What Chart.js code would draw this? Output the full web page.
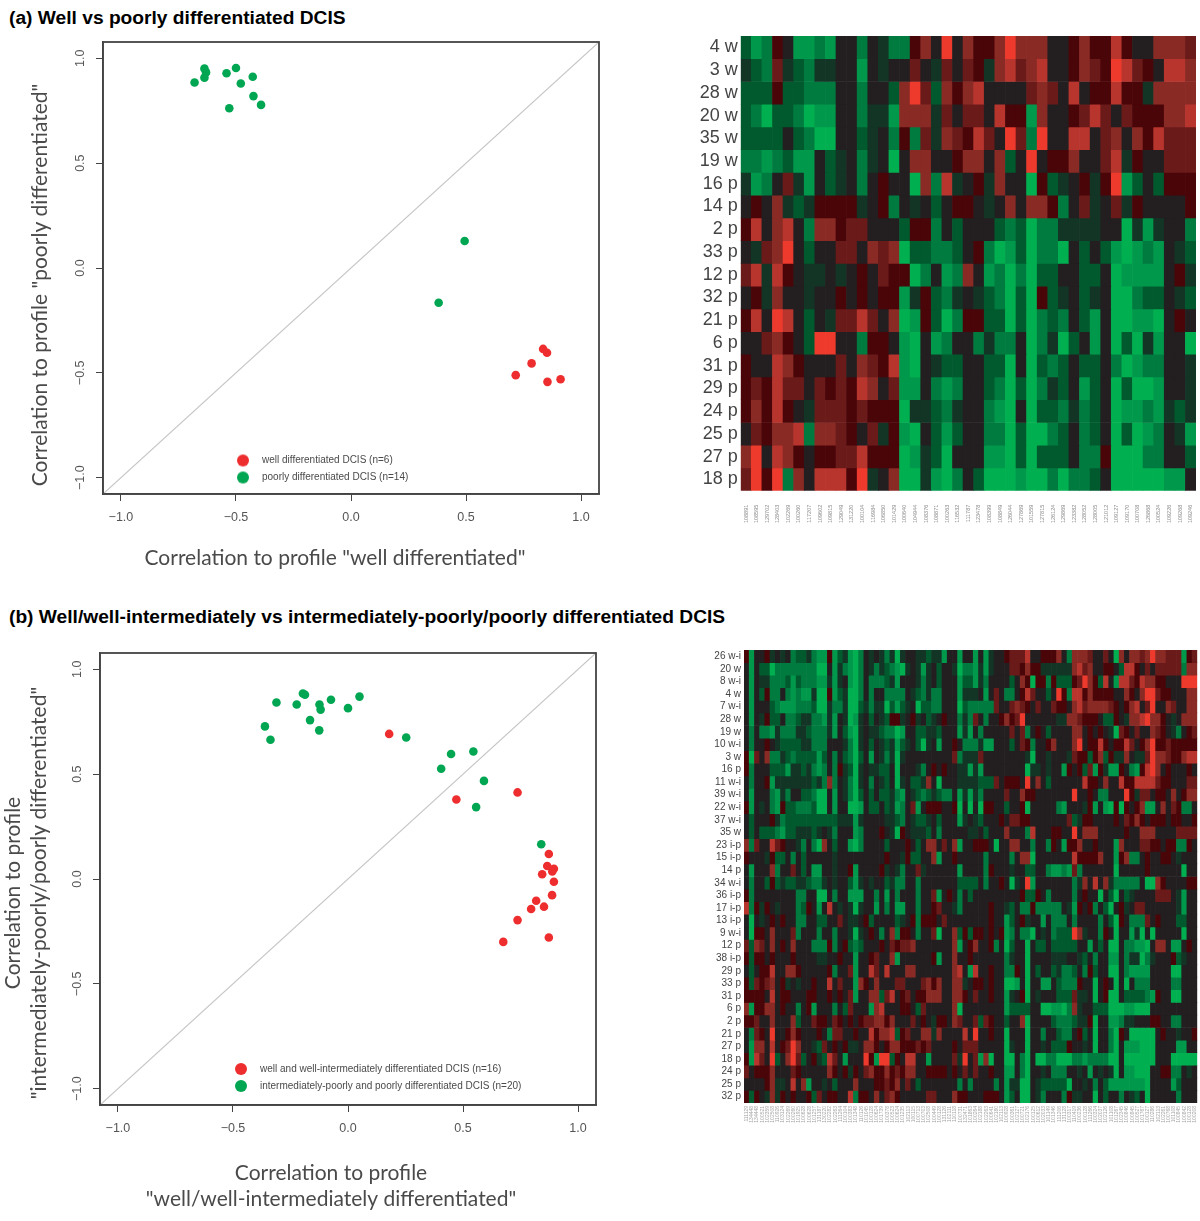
<!DOCTYPE html>
<html><head><meta charset="utf-8">
<script src="https://cdn.jsdelivr.net/npm/chart.js@4"></script>
<style>
html,body{margin:0;padding:0;background:#fff;}
#page{position:relative;width:1200px;height:1221px;overflow:hidden;}
canvas{position:absolute;}
h2{position:absolute;margin:0;font:bold 19.2px "Liberation Sans",Arial,sans-serif;color:#000;white-space:nowrap;}
</style></head><body>
<div id="page">
<h2 style="left:9px;top:7px">(a) Well vs poorly differentiated DCIS</h2>
<h2 style="left:9px;top:606px">(b) Well/well-intermediately vs intermediately-poorly/poorly differentiated DCIS</h2>
<div style="position:absolute;left:0;top:30px;width:640px;height:560px"><canvas id="scA"></canvas></div>
<div style="position:absolute;left:680px;top:30px;width:520px;height:510px"><canvas id="hmA"></canvas></div>
<div style="position:absolute;left:0;top:640px;width:640px;height:581px"><canvas id="scB"></canvas></div>
<div style="position:absolute;left:700px;top:640px;width:500px;height:510px"><canvas id="hmB"></canvas></div>
</div>
<script>
// ---------- scatter (a) ----------
const wellA=[[0.835,-0.386],[0.852,-0.404],[0.785,-0.455],[0.716,-0.511],[0.854,-0.543],[0.911,-0.531]];
const poorA=[[-0.637,0.951],[-0.63,0.933],[-0.637,0.908],[-0.68,0.885],[-0.541,0.929],[-0.5,0.954],[-0.479,0.88],[-0.427,0.912],[-0.424,0.82],[-0.391,0.778],[-0.529,0.762],[0.494,0.129],[0.381,-0.166]];
// ---------- scatter (b) ----------
const wellB=[[0.179,0.692],[0.471,0.379],[0.737,0.413],[0.873,0.119],[0.866,0.062],[0.895,0.049],[0.888,0.036],[0.844,0.023],[0.895,-0.013],[0.887,-0.077],[0.818,-0.104],[0.852,-0.132],[0.796,-0.143],[0.737,-0.196],[0.873,-0.279],[0.675,-0.3]];
const poorB=[[-0.361,0.728],[-0.337,0.664],[-0.311,0.842],[-0.223,0.832],[-0.196,0.885],[-0.187,0.879],[-0.165,0.758],[-0.124,0.832],[-0.119,0.808],[-0.125,0.709],[-0.074,0.855],[0,0.815],[0.05,0.87],[0.253,0.675],[0.405,0.526],[0.448,0.596],[0.545,0.608],[0.591,0.468],[0.557,0.343],[0.84,0.166]];
const axisTicks=[-1,-0.5,0,0.5,1];
const axisLimit=1.078;

// ---------- heatmap (a): expression level -5 (green) .. +5 (red) ----------
const rowLabelsA=["4 w","3 w","28 w","20 w","35 w","19 w","16 p","14 p","2 p","33 p","12 p","32 p","21 p","6 p","31 p","29 p","24 p","25 p","27 p","18 p"];
const colLabelsA=["108891","108595","129702","128403","102269","100260","117207","109602","109815","129049","131220","100104","116984","106850","101429","100640","104944","108376","108871","100263","116532","111787","123478","108399","108849","126044","127869","101559","127815","126124","129869","123382","128052","128005","121012","109127","109170","100708","126868","100524","109226","109268","109246"];
const heatA=[
[-2,-4,-3,1,0,-4,-4,-3,-4,0,0,-3,0,-1,-3,-3,1,3,0,5,0,3,1,1,3,5,3,3,3,0,0,1,3,1,1,4,1,0,0,3,3,3,2],
[-1,-2,-3,2,-1,-2,-3,-1,-1,0,0,-4,0,-1,0,0,2,0,-1,2,0,2,1,-1,3,4,2,3,4,0,0,1,3,2,1,5,4,2,1,0,4,4,3],
[-2,-2,-2,1,-2,-2,-3,-3,-3,0,0,-3,0,0,-2,3,5,2,-2,3,1,3,4,0,0,0,0,2,3,2,0,4,0,1,1,4,1,1,-1,3,3,3,3],
[-2,-3,-5,-2,-2,-3,-5,-4,-4,0,0,-3,-1,-1,-4,3,3,3,-1,2,0,2,2,0,4,1,1,-4,3,0,0,1,2,4,2,0,2,1,1,1,3,3,4],
[-2,-2,-2,-2,0,-2,-3,-5,-5,0,0,-2,-1,0,-3,1,-3,2,-1,3,2,1,4,2,0,5,2,-3,5,0,0,4,4,0,2,3,0,3,1,4,2,2,2],
[-3,-3,-4,-3,-2,-4,-4,0,-2,-1,0,-3,-1,0,-5,0,3,3,0,0,1,3,3,0,3,-2,0,5,0,1,1,3,0,0,2,4,-1,1,0,0,2,2,2],
[-1,-4,-3,0,2,-1,-4,0,-2,-1,0,-3,0,1,0,0,-5,3,-3,4,-1,0,1,-1,3,0,0,-5,1,-2,-1,0,1,-1,1,5,-4,-2,0,-2,1,1,1],
[0,1,0,3,-1,-2,-1,1,1,1,1,-1,0,1,-3,0,-1,0,-2,0,1,1,0,-1,0,3,0,3,3,1,-3,0,2,-1,0,2,-1,1,0,0,0,0,1],
[1,4,0,3,4,0,-3,3,3,1,2,2,0,0,0,-2,1,1,-3,0,-2,0,0,0,-2,-3,-2,-5,-3,-3,-1,-1,-1,-1,0,0,-5,-1,-4,-1,0,0,-3],
[0,-1,2,3,5,0,-2,0,0,2,2,0,3,2,3,-5,-2,-2,-3,-3,-2,0,1,-3,-5,-4,-2,-5,-3,-3,-5,0,-2,0,-2,-4,-5,-4,-3,-4,0,-1,-2],
[2,4,-1,4,1,0,-1,-1,0,-1,0,1,0,2,1,1,-5,-3,0,-4,-3,3,0,-4,-3,-5,-3,-5,-2,-2,0,0,-2,-2,0,-5,-4,-4,-4,-4,0,1,-1],
[0,1,-1,3,0,0,-1,0,0,1,0,1,0,1,1,-4,-1,1,-2,-3,-1,0,-1,-2,-3,-5,-2,-5,1,-2,-1,0,-2,-1,0,-5,-5,-3,-2,-2,0,-1,-2],
[1,4,0,5,4,0,-2,0,-1,2,2,4,2,0,3,-5,-4,1,-2,-5,-3,1,1,-2,-2,-5,-2,-5,-3,-2,-3,0,-2,-4,0,-5,-5,-4,-4,-5,0,1,0],
[0,0,2,3,1,0,-2,5,5,0,0,-3,1,1,0,-4,-5,0,-4,-3,0,0,-3,-1,-3,-3,0,-5,-3,-1,-5,-2,0,-4,0,-5,-2,-5,-1,-4,0,0,-5],
[1,0,0,4,3,1,0,0,0,2,0,3,2,1,4,-4,-5,0,-1,-2,-2,0,0,-2,-2,-5,0,-5,-2,-3,-2,0,-2,-2,0,-3,-5,-4,-3,-3,0,0,-1],
[1,2,1,4,2,2,0,2,1,2,1,4,3,0,2,-4,-4,0,-3,-4,-3,0,0,-2,-3,-5,-2,-5,-3,-1,-2,0,-4,-2,0,-5,-2,-5,-5,-4,0,0,-1],
[1,3,1,4,1,0,-1,2,2,2,1,2,1,1,1,-5,-1,-1,-2,-3,-1,0,0,-3,-4,-5,0,-5,-2,-2,-3,-1,-3,-2,0,-5,-4,-4,-3,-4,-1,-2,-1],
[0,2,1,3,3,4,-3,3,3,2,1,0,2,-1,1,-4,-5,0,-2,-4,-2,0,0,-3,-3,-5,-2,-5,-5,-3,-2,0,-3,-2,0,-5,-2,-5,-4,-3,0,-1,-4],
[3,5,0,4,3,1,0,1,1,2,2,4,1,1,1,-5,-4,-1,-2,-5,0,0,0,-4,-4,-5,-2,-5,-2,-2,-2,0,-3,-3,1,-5,-5,-5,-3,-3,0,0,-2],
[2,5,1,5,-3,3,0,4,4,4,1,5,-1,0,3,-5,-5,-1,-4,-5,-3,0,-2,-5,-5,-5,-4,-5,-5,-3,-5,-3,-3,-2,0,-5,-5,-5,-5,-5,-4,-4,0]
];

// ---------- heatmap (b) ----------
const rowLabelsB=["26 w-i","20 w","8 w-i","4 w","7 w-i","28 w","19 w","10 w-i","3 w","16 p","11 w-i","39 w-i","22 w-i","37 w-i","35 w","23 i-p","15 i-p","14 p","34 w-i","36 i-p","17 i-p","13 i-p","9 w-i","12 p","38 i-p","29 p","33 p","31 p","6 p","2 p","21 p","27 p","18 p","24 p","25 p","32 p"];
const colLabelsB=["111129","134448","134448","100521","102359","102508","110926","103124","102269","100260","101925","100628","100628","101257","131187","130220","102282","102263","111264","100104","100383","101348","110126","101045","100128","100624","101739","100378","100523","100624","101235","102113","100115","100713","100703","102508","100449","100128","131126","102111","110118","100731","132471","101863","100264","102188","102263","100641","102180","102113","100928","100361","102127","100721","102176","100125","100612","102033","101149","101346","111206","131128","100317","110419","100236","100128","111266","100324","102037","102126","101108","101267","102345","100846","100845","100527","101767","100127","110286","102113","102261","100768","101108","100845","100842","100128","100208"];
const heatBLeft=[
[1,-4,0,0,1,-1,0,-1,0,-3,-2,-2,-1,-3,-4,-4,1,-4,-2,-1,-4,-5,-3,0,-1,0,-1,-3,-1,-5,-1,0,0,-1,-1,-2,-1,-1,-4,0],
[0,-4,0,-2,-2,-5,-3,-3,-3,-3,-3,-3,-3,-3,-5,-5,0,-4,-1,-3,-4,-5,-3,0,-1,-3,-1,-2,-3,-4,-5,-1,0,-1,-4,-1,0,-2,0,0],
[0,-4,0,-1,-1,-3,-3,-3,-2,-4,-2,-3,-3,-3,-4,-4,-1,-4,-1,0,-4,-5,-3,0,-3,-3,-3,-2,-1,-4,0,0,0,-1,-3,-1,0,-2,0,0],
[0,-4,0,-2,1,-3,-3,0,-3,-4,-3,-4,-4,-1,-5,-5,1,-4,-2,-1,-5,-5,-3,0,-3,0,0,-3,-3,-3,-3,0,-1,-2,-3,-1,-3,-3,0,0],
[0,-4,0,0,0,-2,-3,-4,-4,-4,-3,-3,-3,-2,-5,-5,-1,-3,-3,-1,-5,-5,-2,-1,-3,-1,-1,-5,-2,-4,-2,-1,0,-5,-2,-2,-3,-3,0,0],
[0,-4,0,-1,1,-2,-2,0,-3,-3,-2,-1,-1,-3,-3,-4,-1,-4,0,-1,-5,-4,-1,0,-2,0,-1,-2,1,1,-1,0,1,-1,0,-2,-1,0,1,0],
[0,-3,0,-3,-3,-4,-1,-3,-3,-3,-1,-1,-2,-3,-3,-3,-1,-4,0,-2,-4,-5,-1,0,-1,-1,-2,-3,-3,-5,-4,0,0,-2,-2,-1,-1,-2,0,0],
[0,-3,0,0,1,0,-1,-2,-2,-2,-2,-1,-1,-3,-3,-3,0,0,0,-1,-3,-5,-1,0,-2,0,-1,-2,-1,-4,-2,-1,0,-2,-5,-1,0,-4,0,0],
[1,-5,2,0,3,-3,-3,-1,-2,-3,-2,-2,-2,-2,-4,-2,0,-3,0,-2,-3,-5,-2,0,-4,0,-1,-3,-1,-5,-1,0,0,0,0,0,0,0,0,0],
[1,-3,0,0,0,-2,-2,-2,-4,-1,-1,-2,-1,-3,-4,-3,0,-3,1,-1,-2,-5,-1,0,-1,-1,-2,-2,0,-5,0,0,0,-1,-3,0,1,0,1,0],
[0,-3,0,0,1,-4,-1,-1,-1,-1,-1,-1,-1,-2,-1,-3,3,-3,0,-1,-3,-5,-1,0,-3,0,-1,-2,0,-5,-1,0,-2,-2,-1,3,0,-5,0,0],
[0,-4,0,0,0,-3,-4,-1,-3,0,0,-2,-2,-3,-5,-5,0,-4,0,-1,-3,-5,-2,0,-2,0,-2,-2,-1,-3,-4,0,-1,-2,-3,-2,-1,-2,-3,-3],
[1,-4,0,-1,0,-3,-4,1,-2,-2,-3,-3,-3,-2,-5,-5,0,-4,0,0,-5,-5,-4,0,-2,-2,0,-2,-1,-4,-3,0,2,-4,0,1,1,1,0,0],
[0,-2,0,0,0,1,-1,-3,-2,-2,-2,-2,-2,-2,-2,-2,-2,-2,-1,-1,-1,-4,-1,0,0,0,0,-1,-1,-2,-3,0,-1,-2,-2,-1,0,-2,0,0],
[0,-2,0,-2,-2,-2,-3,-4,-2,-2,-1,-1,-1,-2,-1,0,-1,-3,0,0,0,-4,-3,0,0,0,1,0,-1,-5,1,0,-1,-1,-1,-2,0,-3,0,0],
[3,-3,2,0,0,4,2,1,0,0,-1,-3,0,-3,-5,3,0,-2,0,0,-4,-5,-3,0,0,0,0,-2,0,0,0,1,0,-2,0,3,3,0,2,0],
[1,0,0,0,-1,1,-2,-2,0,-3,0,-2,0,0,0,0,0,-1,0,0,0,0,0,0,0,0,0,1,0,0,-1,1,-2,-2,0,0,3,-4,0,0],
[0,-4,0,0,0,3,-3,0,0,2,0,-2,0,-4,-4,0,0,-1,0,0,1,-4,0,0,0,0,1,-1,0,-1,-3,0,0,2,-1,0,0,0,0,0],
[0,-3,0,0,-2,1,-2,-1,-2,-2,-1,-1,-2,-3,-3,-1,0,-1,0,0,-2,-4,-1,0,-1,0,0,-2,-1,-3,-3,0,0,-3,0,0,0,0,0,0],
[1,-3,0,0,0,0,0,0,0,0,-3,-3,0,0,-5,-5,0,-3,0,0,-4,-4,-4,0,0,-3,0,-4,0,-3,0,0,0,-3,0,0,2,-4,0,1],
[4,-3,1,-1,1,0,-1,0,0,0,-3,-2,1,0,-4,0,4,0,-1,0,-1,-5,-1,0,0,-4,0,-3,0,-4,-4,0,0,-3,0,0,1,2,0,0],
[0,-5,0,-1,0,1,0,1,0,0,-3,-3,0,0,-2,-2,0,0,2,0,-1,-1,0,1,-2,0,0,0,0,-2,-1,0,1,-3,1,1,1,0,2,0],
[0,-5,1,1,0,3,0,0,0,2,-3,0,0,0,-3,0,0,-3,0,0,-1,-5,-1,0,1,0,-3,0,3,-3,1,1,0,-3,0,0,2,-5,0,0],
[2,-2,3,2,0,3,0,1,0,3,0,0,0,-3,-3,-3,1,-3,0,1,-2,-3,-2,0,0,0,1,0,2,1,2,2,3,0,0,0,0,0,0,0],
[1,-2,1,1,0,1,0,0,0,1,0,0,0,0,-1,-1,0,0,1,0,0,-4,0,0,1,2,0,0,3,-4,0,0,0,0,0,0,1,-4,0,0],
[0,-2,0,1,1,4,0,0,3,3,1,0,0,0,0,0,1,-3,0,0,2,-4,0,0,4,2,0,4,0,0,0,3,3,0,0,0,0,0,0,0],
[1,-2,2,1,2,3,0,1,-1,0,-1,0,0,1,0,0,4,0,2,0,0,-4,3,1,0,3,0,0,0,2,2,0,0,0,2,3,1,3,0,0],
[1,1,1,1,0,4,0,1,1,0,0,0,1,1,0,0,1,0,1,0,2,-4,0,0,3,3,-2,2,4,0,1,2,0,1,1,3,3,3,0,0],
[3,-4,1,1,3,3,0,1,0,0,-3,0,1,-4,0,0,0,-3,0,-2,2,0,0,0,-4,3,4,0,0,0,1,1,0,-2,2,0,0,0,0,0],
[1,1,2,0,0,3,0,0,0,3,-2,0,0,2,1,1,0,2,1,0,1,0,1,2,2,3,3,1,3,0,0,0,2,0,1,0,-1,1,1,0],
[0,-3,2,1,0,5,0,0,1,3,1,0,0,0,1,0,-3,2,2,0,0,1,0,0,4,1,3,3,4,-2,1,2,0,0,3,3,-1,3,0,0],
[0,-4,3,3,0,4,0,1,2,5,3,0,0,-1,-2,2,0,1,0,1,-1,-1,0,3,3,1,0,1,3,3,1,1,1,2,1,2,0,0,0,0],
[1,-4,4,2,0,5,-2,0,3,5,2,-2,0,1,-1,-2,4,2,0,-4,0,0,0,5,1,-4,5,5,-2,1,0,4,4,0,0,-4,0,0,0,0],
[2,0,1,1,1,3,0,0,0,2,1,0,0,0,0,0,3,1,0,1,-1,1,0,2,3,1,1,3,1,2,1,3,3,0,0,1,1,1,1,0],
[0,0,0,0,1,3,-1,-1,0,4,0,3,-4,0,0,-1,0,-2,0,0,0,3,0,0,0,1,1,2,1,3,0,2,0,-2,0,0,0,0,0,0],
[1,-2,1,0,-1,3,-1,1,0,1,0,0,1,-2,2,0,1,1,0,0,4,-3,1,1,0,3,0,2,3,1,0,0,0,0,0,2,2,0,0,0]
];
const heatBRight=[
[0,-4,0,0,-4,0,-4,-1,0,0,1,2,2,2,4,0,0,1,1,1,3,0,-3,3,3,3,2,0,0,2,0,-5,3,0,3,3,2,3,5,3,3,2,2,2,-4,1,2],
[-1,-5,-3,-3,-4,-1,-4,-1,0,0,0,2,2,1,3,1,1,-1,-1,-1,-1,-1,-1,3,4,2,3,0,0,1,1,0,-2,4,4,1,0,2,0,2,2,2,2,2,-3,3,3],
[0,-4,-2,-2,-4,-1,-3,0,0,0,0,-2,0,3,1,-5,1,1,-3,1,-2,-2,-2,1,2,5,3,1,-2,4,0,-4,4,4,2,1,4,3,3,1,1,0,0,0,5,5,5],
[0,-4,-1,-1,-1,0,-4,0,2,0,-3,-3,0,1,4,2,0,0,-2,0,5,1,-3,4,4,1,3,1,1,1,1,0,0,3,1,0,3,5,5,2,1,1,0,0,0,3,3],
[0,-5,-2,-3,-3,-3,-3,-3,2,0,0,2,3,2,1,0,2,0,0,2,1,1,0,3,4,2,3,3,3,3,2,1,0,1,3,4,0,2,5,0,0,3,2,0,0,3,3],
[0,-3,-1,-3,2,0,-3,0,0,1,3,1,2,5,0,0,0,0,0,0,-1,-1,3,3,2,1,1,1,0,-2,-2,1,0,-1,3,3,4,5,3,3,1,0,-1,0,3,3,3],
[0,-4,-1,-4,0,-3,0,0,0,0,0,2,0,2,-3,0,1,0,-2,0,0,0,0,3,3,0,1,0,1,0,-1,-5,2,1,0,2,0,0,3,2,1,0,-1,-3,0,1,2],
[1,0,-3,-3,-3,-1,-4,-4,0,0,0,-2,0,2,1,-3,0,0,1,3,0,0,0,3,5,0,1,1,4,1,0,1,1,4,2,0,1,3,5,1,1,2,1,1,1,1,1],
[2,-3,-1,-1,-1,2,0,0,0,0,0,0,0,0,-1,-5,0,0,-1,0,0,0,-1,2,1,1,-2,1,3,-2,1,-1,-1,3,0,-1,-1,2,5,3,3,2,1,1,3,4,4],
[0,-1,-1,-4,-1,-4,0,0,0,0,0,0,0,0,-5,-1,-1,0,-1,0,0,-4,1,0,1,-2,2,-4,1,-1,-4,-4,1,0,-3,-4,1,4,5,3,0,1,0,0,0,1,0],
[0,-1,-1,-1,-1,-2,-2,-2,2,0,1,1,1,0,5,0,3,0,-2,0,0,0,0,0,0,4,1,1,0,3,0,0,4,1,1,4,4,4,4,2,1,1,0,0,0,2,2],
[0,-4,-1,-4,-1,-3,0,0,0,0,2,0,0,3,1,1,0,0,0,0,0,0,0,5,0,0,1,0,-3,-3,0,0,0,5,1,-1,2,2,0,1,1,0,3,0,1,3,3],
[1,-5,0,-5,0,-5,1,1,0,0,-2,0,0,1,-5,0,0,0,0,0,-3,-4,0,0,0,-1,1,-4,0,-4,-5,1,-5,1,0,1,3,-4,-4,0,3,0,2,1,-3,-3,0],
[0,-4,-1,0,-1,-2,0,0,0,1,0,2,2,1,1,0,0,0,0,0,0,0,2,-2,-1,1,1,0,0,0,0,1,0,2,1,3,1,0,1,1,1,0,1,1,0,0,1],
[0,0,0,-1,-1,0,-2,0,0,0,3,0,0,0,-3,4,0,0,0,1,1,0,0,5,0,3,3,3,0,0,0,0,0,1,0,0,3,3,3,0,0,0,0,2,2,2,2],
[3,-4,0,0,1,1,1,0,-5,0,0,3,3,0,0,-3,0,0,-3,1,0,-4,1,1,3,0,0,1,0,0,0,-4,3,0,0,0,2,2,1,1,0,1,1,-3,-3,1,0],
[1,0,0,0,0,0,-3,0,0,0,0,-3,0,3,3,-5,0,0,0,0,0,0,0,4,1,1,1,1,3,0,0,-4,1,3,-3,-3,0,1,0,0,1,1,0,-1,0,0,0],
[0,-4,0,0,0,0,-3,1,0,0,0,-1,0,0,-2,-2,0,0,-3,-4,-4,-3,-4,2,-3,0,0,0,0,0,0,-5,0,0,0,0,0,1,0,0,0,0,0,0,-5,0,0],
[0,-2,-2,-2,-2,0,-3,0,0,1,0,-5,-1,0,5,-4,0,0,0,0,0,0,0,-3,-1,3,0,4,0,3,-1,-3,-3,-3,-3,-3,0,-5,-5,3,1,0,0,0,0,1,1],
[0,-3,0,-2,0,0,0,0,0,0,0,0,0,1,-2,-2,1,0,-3,0,0,0,0,-3,0,1,0,0,-5,0,-2,-5,0,-2,-1,0,0,0,0,2,2,2,0,-1,-4,0,0],
[-1,-3,0,0,0,0,0,1,0,0,-1,-2,0,-3,-3,1,-3,-3,-3,-3,-3,0,-1,-4,1,0,1,-3,0,-2,-5,0,1,-1,0,2,2,0,0,0,0,0,0,-1,-4,0,0],
[0,0,0,0,0,0,0,1,0,0,-4,-2,0,1,-1,0,0,-4,0,-3,-3,-3,0,-3,0,0,0,0,-3,0,-2,-5,1,0,-3,-3,-3,2,0,1,0,0,0,-2,-2,0,0],
[3,-2,1,-2,1,1,0,1,0,1,-4,-3,0,-3,-3,-5,0,-1,0,-3,-2,-2,-2,5,3,-1,0,0,-3,1,0,-5,0,0,-4,-1,-5,0,-5,0,0,0,0,0,-5,0,0],
[3,-4,0,1,3,0,0,1,-3,0,-5,-2,0,0,-5,0,-2,-2,0,-2,-2,-2,-2,-2,0,0,-4,0,-2,0,-5,-5,0,-3,-3,-4,-4,-5,0,3,3,0,-4,-4,0,1,0],
[3,0,0,1,0,0,0,0,0,0,-3,-1,0,0,-5,0,0,0,0,-1,-1,-1,0,0,-1,-2,0,-3,0,0,-4,-4,0,-3,-1,-1,-5,-3,-1,0,0,0,1,-2,-1,0,0],
[3,4,0,-4,4,0,0,1,0,0,-3,-3,1,0,-5,0,-2,0,0,-2,-1,-3,-3,-2,0,-3,1,-2,0,0,-5,-5,0,-3,-4,-4,-4,-4,0,0,0,0,-5,-5,0,0,0],
[3,3,-1,0,1,1,0,1,0,0,-5,-5,-4,0,-5,0,0,-4,-4,0,-2,-3,-3,-3,1,0,0,-5,0,1,0,-5,0,-5,0,-3,-3,-3,0,0,0,0,-3,-3,0,0,0],
[3,3,1,0,2,0,0,1,0,0,-4,-1,0,1,-5,0,-1,0,0,0,-2,-2,-2,2,-1,-1,0,-5,0,1,-5,-5,0,-2,-2,-2,-2,-3,-4,1,0,0,-5,-5,0,0,0],
[3,-5,0,0,0,0,0,0,0,0,-4,-2,-2,-2,-2,0,0,-5,-5,-4,-4,-5,-3,3,-1,0,0,-2,-2,-2,-5,-5,-5,-4,-4,-5,-5,-5,0,0,0,0,0,0,0,0,0],
[3,2,0,0,2,-2,2,1,0,0,-2,0,0,3,-5,0,0,0,0,-2,-3,-3,-3,-2,-1,-1,1,-5,0,0,-4,-4,-3,-1,-1,0,0,0,1,1,0,0,-3,-3,0,0,0],
[0,0,4,0,5,0,0,1,0,0,-5,0,0,0,-5,0,0,-3,0,0,-2,-3,-3,0,1,-2,0,-5,0,0,-3,-5,1,0,-5,-5,-5,-5,-5,0,1,0,0,-1,0,0,1],
[1,0,2,2,2,0,0,0,0,0,-5,-1,0,0,-5,0,0,-1,0,-2,-2,-2,1,0,0,-1,0,-5,0,0,-3,-5,0,-4,-4,-4,-5,-5,-5,0,0,0,0,-4,-4,0,0],
[2,-1,5,0,2,-4,3,-5,0,0,-5,-5,0,-3,-5,0,-5,-5,-3,-3,-5,-5,-5,-3,-3,-4,-3,-3,-3,-3,-5,-5,0,-5,-5,-5,-5,-5,-5,0,0,0,-5,-5,-5,-5,-5],
[1,0,2,0,2,0,0,1,0,0,-4,-4,0,-3,-5,0,0,-1,0,-3,-3,-3,0,0,-1,0,-4,0,-1,0,-1,-5,0,-4,-4,-5,-5,-5,0,0,1,1,-3,-3,0,-1,0],
[0,-3,0,-3,0,0,0,0,-3,0,-4,-1,-1,-5,-5,0,-1,-2,-2,-2,-2,-2,-5,0,0,-1,0,-3,0,-2,-4,-4,-4,-4,-4,-4,-4,-5,0,0,0,0,-4,-2,0,0,0],
[3,1,1,0,0,0,1,1,1,0,-4,-2,0,-5,-5,0,-1,-3,0,0,0,-3,1,-1,-1,0,0,-5,0,-2,0,0,-3,0,-1,-2,0,-5,0,0,0,0,0,-3,0,0,0]
];
const heatB=heatBLeft.map((r,i)=>r.concat(heatBRight[i]));

const PALETTE=["#00B050","#00994C","#007B40","#005A2E","#133526","#231F20","#4A0509","#6B1A1A","#8A2A25","#B8352E","#EE3A2C"];
const RED="#EE2D2F",GREEN="#00A651",INK="#4a4a4a";

// -------------- helpers --------------
function noAutoPadding(s){s.paddingLeft=s.paddingRight=s.paddingTop=s.paddingBottom=0;}
function shiftTitle(scale,dx,dy){
  if(scale._shifted) return; scale._shifted=true;
  const orig=scale.drawTitle.bind(scale);
  scale.drawTitle=function(){const c=scale.ctx;c.save();c.translate(dx,dy);orig();c.restore();};
}
function marker(color,d){
  const c=document.createElement('canvas');c.width=c.height=d+2;
  const x=c.getContext('2d');x.fillStyle=color;x.beginPath();x.arc(d/2+1,d/2+1,d/2,0,Math.PI*2);x.fill();
  return c;
}
const boxPlugin={id:'box',afterDatasetsDraw(chart){
  const a=chart.chartArea,c=chart.ctx;c.save();c.strokeStyle='#444';c.lineWidth=1.8;
  c.strokeRect(a.left,a.top,a.right-a.left,a.bottom-a.top);c.restore();}};
const legendPlace={id:'legendPlace',afterLayout(chart,args,o){
  const l=chart.legend;l.left=o.x;l.top=o.y;l.right=o.x+l.width;l.bottom=o.y+l.height;}};

function scatter(id,well,poor,wellName,poorName,cfg){
  const toPts=a=>a.map(p=>({x:p[0],y:p[1]}));
  const titleFont={family:'Lato',size:cfg.fs,lineHeight:1.24};
  new Chart(document.getElementById(id),{
    type:'scatter',
    plugins:[boxPlugin,legendPlace],
    data:{datasets:[
      {label:wellName,data:toPts(well),backgroundColor:RED,borderColor:RED,pointRadius:4.3,pointBorderWidth:0},
      {label:poorName,data:toPts(poor),backgroundColor:GREEN,borderColor:GREEN,pointRadius:4.3,pointBorderWidth:0},
      {label:'identity',data:[{x:-axisLimit,y:-axisLimit},{x:axisLimit,y:axisLimit}],showLine:true,pointRadius:0,borderColor:'#c6c6c6',borderWidth:1.2,fill:false}
    ]},
    options:{
      responsive:false,animation:false,
      layout:{padding:cfg.pad},
      plugins:{
        tooltip:{enabled:false},
        legendPlace:{x:cfg.lx,y:cfg.ly},
        legend:{position:'chartArea',align:'start',labels:{
          font:{family:'"Liberation Sans",Arial',size:10},color:INK,padding:7,
          boxHeight:10,usePointStyle:true,pointStyleWidth:28,
          generateLabels(ch){
            return Chart.defaults.plugins.legend.labels.generateLabels(ch)
              .filter(it=>it.text!=='identity')
              .map(it=>({...it,pointStyle:marker(it.fillStyle,12)}));
          }}}
      },
      scales:{
        x:{type:'linear',min:-axisLimit,max:axisLimit,
          afterFit(s){s.height=cfg.xh;noAutoPadding(s);shiftTitle(s,cfg.xdx,0);},
          afterBuildTicks(s){s.ticks=axisTicks.map(v=>({value:v}));},
          grid:{drawOnChartArea:false,color:'#444',tickLength:7},border:{color:'#444',width:1.5},
          ticks:{color:'#555',font:{family:'"Liberation Sans",Arial',size:12.5},padding:9,maxRotation:0,
            callback:v=>(v<0?'\u2212':'')+Math.abs(v).toFixed(1)},
          title:{display:true,text:cfg.xt,color:INK,font:titleFont,padding:{top:0,bottom:cfg.xb}}},
        y:{type:'linear',min:-axisLimit,max:axisLimit,
          afterFit(s){s.width=cfg.yw;noAutoPadding(s);shiftTitle(s,0,cfg.ydy);},
          afterBuildTicks(s){s.ticks=axisTicks.map(v=>({value:v}));},
          grid:{drawOnChartArea:false,color:'#444',tickLength:7},border:{color:'#444',width:1.5},
          ticks:{color:'#555',font:{family:'"Liberation Sans",Arial',size:12.5},padding:3,minRotation:90,maxRotation:90,crossAlign:'center',
            callback:v=>(v<0?'\u2212':'')+Math.abs(v).toFixed(1)},
          title:{display:true,text:cfg.yt,color:INK,font:titleFont,padding:{top:cfg.yl,bottom:0}}}
      }
    }
  });
}
function heatmap(id,rows,rowLabels,colLabels,cfg){
  const n=rows.length;
  new Chart(document.getElementById(id),{
    type:'bar',
    data:{labels:colLabels,datasets:rows.map((r,i)=>({
      label:rowLabels[i],
      data:colLabels.map(()=>1),
      backgroundColor:colLabels.map((_,c)=>PALETTE[(r[c]||0)+5]),
      borderWidth:0,barPercentage:1,categoryPercentage:1,stack:'s'
    }))},
    options:{
      responsive:false,animation:false,
      layout:{padding:cfg.pad},
      plugins:{legend:{display:false},tooltip:{enabled:false}},
      scales:{
        x:{stacked:true,grid:{display:false,drawTicks:false},border:{display:false},
          afterFit(s){s.height=cfg.xh;noAutoPadding(s);},
          ticks:{autoSkip:false,minRotation:90,maxRotation:90,color:cfg.colColor,padding:cfg.colPad,
            font:{family:'"Liberation Sans",Arial',size:cfg.colFont}}},
        y:{stacked:true,display:false,min:0,max:n,reverse:true},
        yLab:{type:'category',labels:rowLabels,position:'left',offset:true,
          afterFit(s){s.width=cfg.yw;noAutoPadding(s);},
          grid:{display:false,drawTicks:false},border:{display:false},
          ticks:{autoSkip:false,color:cfg.rowColor,padding:cfg.rowPad,
            font:{family:'"Liberation Sans",Arial',size:cfg.rowFont}}}
      }
    }
  });
}
function size(id,w,h){const c=document.getElementById(id);c.width=w;c.height=h;c.style.width=w+'px';c.style.height=h+'px';}
size('scA',640,560);size('scB',640,581);size('hmA',520,510);size('hmB',500,510);

scatter('scA',wellA,poorA,'well differentiated DCIS (n=6)','poorly differentiated DCIS (n=14)',{
  pad:{top:12,right:41,left:0,bottom:0},xh:96,yw:103,xdx:-16,ydy:17,
  xt:'Correlation to profile "well differentiated"',yt:'Correlation to profile "poorly differentiated"',
  fs:21,xb:19,yl:27,lx:222,ly:418.5});
scatter('scB',wellB,poorB,'well and well-intermediately differentiated DCIS (n=16)','intermediately-poorly and poorly differentiated DCIS (n=20)',{
  pad:{top:13,right:44,left:0,bottom:0},xh:116,yw:100,xdx:-17,ydy:14,
  xt:['Correlation to profile','"well/well-intermediately differentiated"'],yt:['Correlation to profile','"intermediately-poorly/poorly differentiated"'],
  fs:21,xb:9,yl:0,lx:220,ly:417});
heatmap('hmA',heatA,rowLabelsA,colLabelsA,{pad:{top:6,right:4,left:0,bottom:0},xh:49.3,yw:60.7,colFont:5.5,colColor:'#8a8a8a',colPad:14,rowFont:18,rowColor:'#444',rowPad:3});
heatmap('hmB',heatB,rowLabelsB,colLabelsB,{pad:{top:10,right:2.7,left:0,bottom:0},xh:47,yw:44,colFont:5,colColor:'#a5a5a5',colPad:3,rowFont:10,rowColor:'#444',rowPad:3});
</script>
</body></html>
